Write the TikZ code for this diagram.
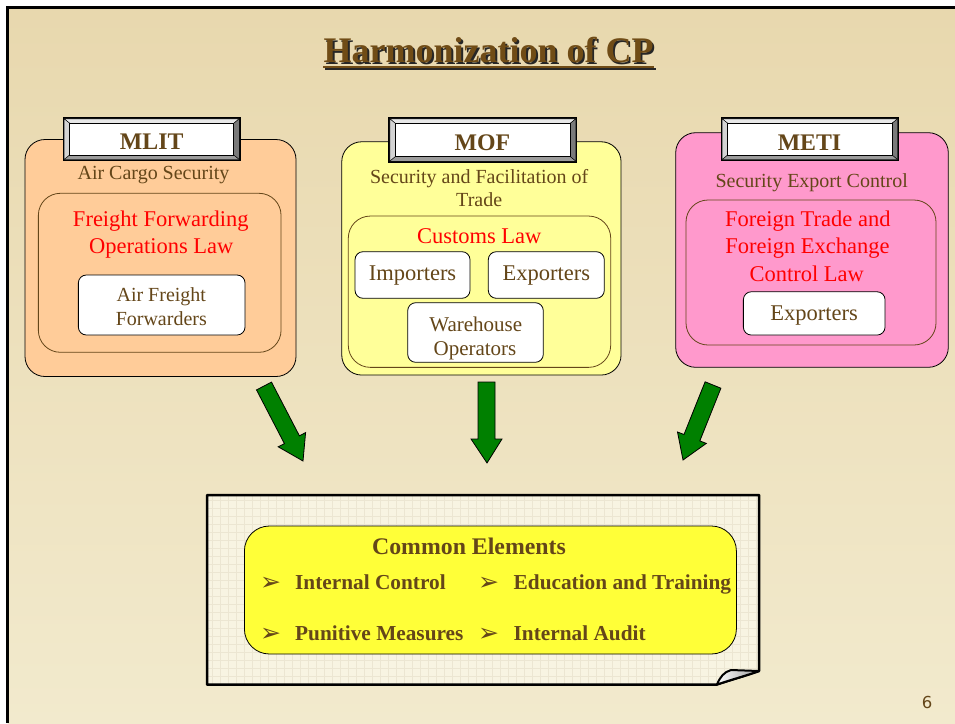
\documentclass[tikz,border=0pt]{standalone}
\usepackage{fontspec}
\setmainfont{Liberation Serif}
\newfontfamily\symfont{DejaVu Sans}
\newfontfamily\numfont{DejaVu Sans}
\definecolor{bgtop}{HTML}{E8D8AE}
\definecolor{bgbot}{HTML}{F2EACD}
\definecolor{brn}{RGB}{100,70,25}
\definecolor{titlebrn}{RGB}{112,76,22}
\definecolor{peach}{HTML}{FFCC99}
\definecolor{lyellow}{HTML}{FFFF99}
\definecolor{metipink}{HTML}{FF99CC}
\definecolor{cyellow}{HTML}{FFFF38}
\definecolor{notefill}{HTML}{F8F4E2}
\definecolor{gridc}{HTML}{ECE6D2}
\definecolor{agreen}{HTML}{008000}
\definecolor{bevlight}{HTML}{E8E8E8}
\definecolor{bevleft}{HTML}{D4D4D4}
\definecolor{bevright}{HTML}{7A7A7A}
\definecolor{bevbot}{HTML}{9C9C9C}
\newcommand\fs[1]{\fontsize{#1}{#1}\selectfont}
\newcommand\agencybox[6]{%
  \fill[black] (#2,#3) rectangle (#4,#5);
  \filldraw[fill=bevlight,draw=black,line width=0.4] ({#2+1.5},{#3+1.5}) -- ({#4-1.5},{#3+1.5}) -- ({#4-7},{#3+6}) -- ({#2+7},{#3+6}) -- cycle;
  \filldraw[fill=bevleft,draw=black,line width=0.4] ({#2+1.5},{#3+1.5}) -- ({#2+7},{#3+6}) -- ({#2+7},{#5-6}) -- ({#2+1.5},{#5-1.5}) -- cycle;
  \filldraw[fill=bevright,draw=black,line width=0.4] ({#4-1.5},{#3+1.5}) -- ({#4-1.5},{#5-1.5}) -- ({#4-7},{#5-6}) -- ({#4-7},{#3+6}) -- cycle;
  \filldraw[fill=bevbot,draw=black,line width=0.4] ({#2+1.5},{#5-1.5}) -- ({#4-1.5},{#5-1.5}) -- ({#4-7},{#5-6}) -- ({#2+7},{#5-6}) -- cycle;
  \node[fill=white,draw=black,line width=0.6,inner sep=0,minimum width={#4-#2-14},minimum height={#5-#3-12}] (#1) at ({(#2+#4)/2},{(#3+#5)/2}) {};
  \node[lbl] (#1-t) at (#6) {\MakeUppercase{#1}};
}
\tikzset{
  txt/.style={anchor=base,inner sep=0},
  lbl/.style={txt,text=brn,font=\bfseries\fs{23.8}},
  sub/.style={txt,text=brn,font=\fs{20}},
  law/.style={txt,text=red,font=\fs{22.5}},
  panel/.style={draw=black,line width=0.8,rounded corners=20,inner sep=0},
  innerbox/.style={draw=brn,line width=0.8,rounded corners=22,inner sep=0},
  wbox/.style={draw=black,fill=white,line width=0.8,rounded corners=8,inner sep=0},
  blockarrow/.style={fill=agreen,draw=black,line width=0.8,line join=miter},
  item/.style={txt,text=brn,font=\bfseries\fs{21.3}},
  bul/.style={txt,text=brn,font=\symfont\fs{25}},
}
\begin{document}
\begin{tikzpicture}[x=1pt,y=-1pt]
\useasboundingbox (0,0) rectangle (955,723);
\fill[white] (0,0) rectangle (955,723);
\shade[top color=bgtop,bottom color=bgbot] (7.5,7.5) rectangle (955,723);
\draw[line width=3] (7.5,723) -- (7.5,7.5) -- (955,7.5);

% title with its shadow in one node
\node[txt,font=\bfseries\fs{36},text=titlebrn] (title) at (488.5,62.5) {\rlap{\hspace{2pt}\raisebox{-2pt}{\color{black!85}Harmonization of CP}}Harmonization of CP};
\draw[line width=2.2,black!85] ([xshift=2pt,yshift=-6.5pt]title.base west) -- ([xshift=2pt,yshift=-6.5pt]title.base east);
\draw[line width=2.2,titlebrn] ([yshift=-4.5pt]title.base west) -- ([yshift=-4.5pt]title.base east);

% MLIT panel
\node[panel,fill=peach,minimum width=271,minimum height=237] (mlitpanel) at (160.5,258) {};
\agencybox{mlit}{62.7}{117.3}{240.7}{161}{151.7,149.3}
\node[sub] (mlitsub) at (153.5,179.3) {Air Cargo Security};
\node[innerbox,fill=peach,minimum width=242.7,minimum height=159] (mlitin) at (159.7,272.8) {};
\node[law] (mlitlaw1) at (160.8,226.7) {Freight Forwarding};
\node[law] (mlitlaw2) at (161.3,253.3) {Operations Law};
\node[wbox,minimum width=166.7,minimum height=60] (aff) at (161.7,305) {};
\node[sub] (aff1) at (161.3,301.7) {Air Freight};
\node[sub] (aff2) at (161.3,325) {Forwarders};

% MOF panel
\node[panel,fill=lyellow,minimum width=279.3,minimum height=233.3] (mofpanel) at (481.4,258.4) {};
\agencybox{mof}{388.3}{117.3}{577.3}{162.7}{482.5,150.7}
\node[sub] (mofsub1) at (479.2,183.3) {Security and Facilitation of};
\node[sub] (mofsub2) at (479.2,206.7) {Trade};
\node[innerbox,fill=lyellow,minimum width=262.4,minimum height=151.3] (mofin) at (479.5,291.7) {};
\node[law] (moflaw) at (479.2,243.3) {Customs Law};
\node[wbox,minimum width=115,minimum height=46.6] (imp) at (412.5,275) {};
\node[txt,text=brn,font=\fs{22.5}] (impt) at (412.5,280) {Importers};
\node[wbox,minimum width=116,minimum height=46.6] (exp) at (546.3,275) {};
\node[txt,text=brn,font=\fs{22.5}] (expt) at (546.3,280) {Exporters};
\node[wbox,minimum width=135.6,minimum height=59.6] (wh) at (475.5,332.5) {};
\node[txt,text=brn,font=\fs{21}] (wh1) at (475.8,331.7) {Warehouse};
\node[txt,text=brn,font=\fs{21}] (wh2) at (475,355) {Operators};

% METI panel
\node[panel,fill=metipink,minimum width=272.6,minimum height=234.6] (metipanel) at (812,250) {};
\agencybox{meti}{720.7}{117.3}{899}{161}{809.5,150}
\node[sub] (metisub) at (811.7,187.3) {Security Export Control};
\node[innerbox,fill=metipink,minimum width=250,minimum height=145] (metiin) at (811,272.5) {};
\node[law] (metilaw1) at (807.8,226.7) {Foreign Trade and};
\node[law] (metilaw2) at (807.5,253.3) {Foreign Exchange};
\node[law] (metilaw3) at (806.7,281.7) {Control Law};
\node[wbox,minimum width=141.7,minimum height=43.3] (mexp) at (814.2,313.4) {};
\node[txt,text=brn,font=\fs{22.5}] (mexpt) at (814.2,320) {Exporters};

% green block arrows
\filldraw[blockarrow] (271.5,382.1) -- (299.4,435.8) -- (305.6,432.6) -- (303,461) -- (278.2,446.8) -- (284.4,443.6) -- (256.5,389.9) -- cycle;
\filldraw[blockarrow] (478,382) -- (495,382) -- (495,439) -- (502,439) -- (487,463) -- (471,439) -- (478,439) -- cycle;
\filldraw[blockarrow] (720.9,388.2) -- (699.8,440.9) -- (706.3,443.4) -- (683,460) -- (677.5,432.0) -- (684.0,434.5) -- (705.1,381.8) -- cycle;

% note box
\fill[notefill] (207,495) -- (759,495) -- (759,671) .. controls (745,676) and (730,680) .. (717,684.5) -- (207,684.5) -- cycle;
\begin{scope}
\clip (207,495) -- (759,495) -- (759,671) .. controls (745,676) and (730,680) .. (717,684.5) -- (207,684.5) -- cycle;
\foreach \gx in {212,220,...,756} \draw[gridc,line width=0.5] (\gx,495) -- (\gx,686);
\foreach \gy in {500,508,...,684} \draw[gridc,line width=0.5] (207,\gy) -- (760,\gy);
\end{scope}
\draw[line width=2.5,line join=round] (207,495) -- (759,495) -- (759,671) .. controls (745,676) and (730,680) .. (717,684.5) -- (207,684.5) -- cycle;
\shade[left color=white,right color=black!40] (717,684.5) .. controls (720,677) and (724,672) .. (731,670) -- (759,671) .. controls (745,676) and (730,680) .. (717,684.5) -- cycle;
\draw[line width=2,line join=round] (717,684.5) .. controls (720,677) and (724,672) .. (731,670) -- (759,671) .. controls (745,676) and (730,680) .. (717,684.5) -- cycle;
\coordinate (notecorner) at (759,671);

% common elements
\node[draw=black,line width=0.8,fill=cyellow,rounded corners=25,minimum width=492,minimum height=128,inner sep=0] (common) at (490.4,590) {};
\node[txt,text=brn,font=\bfseries\fs{23.8}] (commont) at (469,554) {Common Elements};
\node[bul,anchor=base west] (b1) at (260,590) {➢};
\node[item,anchor=base west] (i1) at (295,589.3) {Internal Control};
\node[bul,anchor=base west] (b2) at (478,590) {➢};
\node[item,anchor=base west] (i2) at (513.5,589.3) {Education and Training};
\node[bul,anchor=base west] (b3) at (260,641.4) {➢};
\node[item,anchor=base west] (i3) at (295,640.7) {Punitive Measures};
\node[bul,anchor=base west] (b4) at (478,641.4) {➢};
\node[item,anchor=base west] (i4) at (513.5,640.7) {Internal Audit};

% page number
\node[txt,font=\numfont\fs{16.5},text=brn] (pnum) at (927,708) {6};
\end{tikzpicture}
\end{document}
